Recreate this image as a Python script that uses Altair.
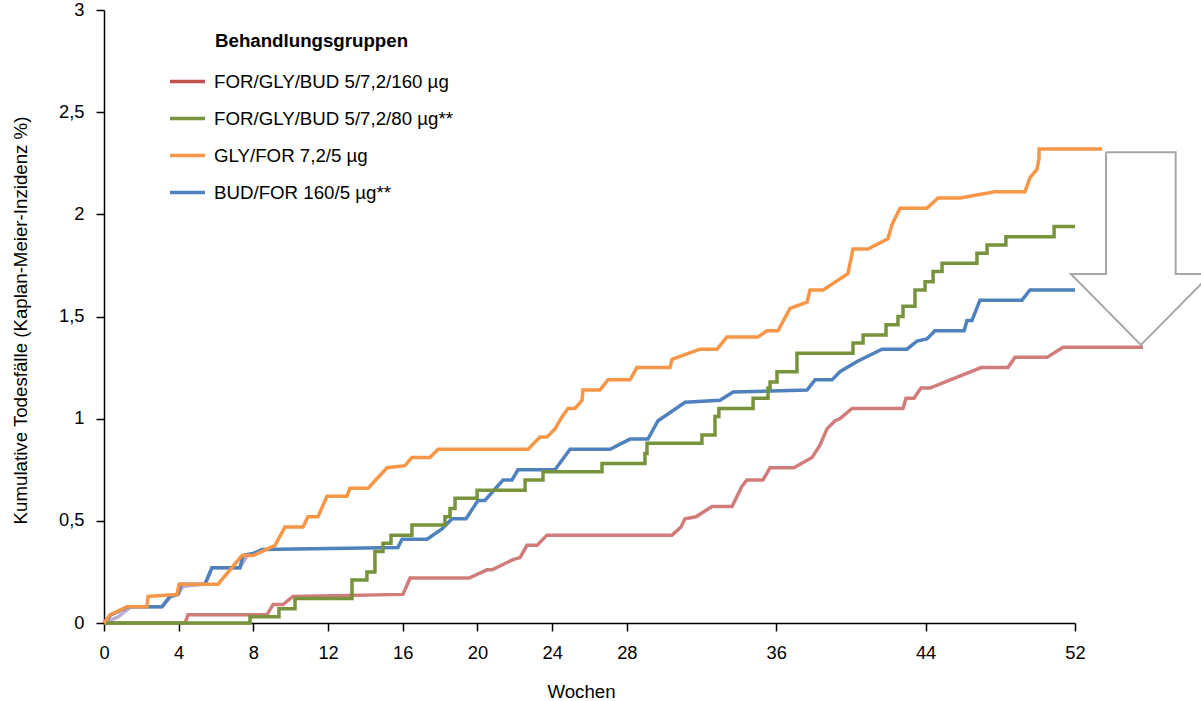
import altair as alt
import pandas as pd

FONT = "Liberation Sans"

GROUPS = ["FOR/GLY/BUD 5/7,2/160 µg", "FOR/GLY/BUD 5/7,2/80 µg**",
          "GLY/FOR 7,2/5 µg", "BUD/FOR 160/5 µg**"]
COLORS = ["#c0504d", "#77933c", "#f79646", "#4f81bd"]

X_TICKS = [0, 4, 8, 12, 16, 20, 24, 28, 36, 44, 52]
Y_TICKS = [0, 0.5, 1, 1.5, 2, 2.5, 3]

# FOR/GLY/BUD 5/7,2/160 µg
RED_W = [0, 4.34, 4.50, 8.73, 9.05, 9.59, 10.12, 16.01, 16.39, 19.55, 20.51, 20.78,
         21.90, 22.28, 22.65, 23.19, 23.72, 30.42, 30.90, 31.11, 31.70, 32.56, 33.63,
         34.17, 34.43, 35.29, 35.67, 36.95, 37.92, 38.34, 38.72, 39.15, 39.41, 40.06,
         42.79, 42.95, 43.38, 43.75, 44.23, 46.97, 48.41, 48.79, 50.50, 51.36, 55.64]
RED_V = [0, 0, 0.04, 0.04, 0.09, 0.09, 0.13, 0.14, 0.22, 0.22, 0.26, 0.26,
         0.31, 0.32, 0.38, 0.38, 0.43, 0.43, 0.47, 0.51, 0.52, 0.57, 0.57,
         0.67, 0.70, 0.70, 0.76, 0.76, 0.81, 0.87, 0.95, 0.99, 1.00, 1.05,
         1.05, 1.10, 1.10, 1.15, 1.15, 1.25, 1.25, 1.30, 1.30, 1.35, 1.35]

# FOR/GLY/BUD 5/7,2/80 µg** (step function: event week, value after event)
GREEN_W = [0, 7.82, 9.37, 10.23, 13.28, 14.08, 14.51, 14.94, 15.37, 16.49, 18.26, 18.53,
           18.80, 19.98, 22.55, 23.51, 26.67, 28.97, 29.08, 32.02, 32.72, 32.93, 34.76,
           35.56, 35.67, 36.04, 37.11, 40.11, 40.65, 41.88, 42.52, 42.79, 43.43, 43.97,
           44.40, 44.88, 46.75, 47.29, 48.30, 50.88, 52.00]
GREEN_V = [0, 0.03, 0.07, 0.12, 0.21, 0.25, 0.35, 0.39, 0.43, 0.48, 0.52, 0.56,
           0.61, 0.65, 0.70, 0.74, 0.78, 0.83, 0.88, 0.92, 1.01, 1.05, 1.10,
           1.15, 1.18, 1.23, 1.32, 1.37, 1.41, 1.46, 1.50, 1.55, 1.63, 1.67,
           1.72, 1.76, 1.81, 1.85, 1.89, 1.94, 1.94]

# GLY/FOR 7,2/5 µg
ORANGE_W = [0, 0.32, 1.23, 2.30, 2.36, 3.91, 4.02, 6.11, 7.39, 7.98, 9.16, 9.69, 10.66,
            10.92, 11.46, 11.94, 13.01, 13.17, 14.14, 15.16, 16.12, 16.49, 17.46, 17.89,
            22.71, 23.35, 23.72, 24.15, 24.53, 24.85, 25.22, 25.60, 25.65, 26.56, 26.99,
            28.17, 28.54, 30.31, 30.42, 31.92, 32.83, 33.36, 35.02, 35.51, 36.09, 36.74,
            37.65, 37.81, 38.51, 39.84, 40.11, 40.91, 41.98, 42.20, 42.63, 44.07, 44.66,
            45.84, 47.72, 49.32, 49.59, 49.96, 50.07, 50.08, 53.45]
ORANGE_V = [0, 0.04, 0.08, 0.08, 0.13, 0.14, 0.19, 0.19, 0.33, 0.33, 0.38, 0.47, 0.47,
            0.52, 0.52, 0.62, 0.62, 0.66, 0.66, 0.76, 0.77, 0.81, 0.81, 0.85,
            0.85, 0.91, 0.91, 0.95, 1.01, 1.05, 1.05, 1.09, 1.14, 1.14, 1.19,
            1.19, 1.25, 1.25, 1.29, 1.34, 1.34, 1.40, 1.40, 1.43, 1.43, 1.54,
            1.57, 1.63, 1.63, 1.71, 1.83, 1.83, 1.88, 1.95, 2.03, 2.03, 2.08,
            2.08, 2.11, 2.11, 2.18, 2.22, 2.27, 2.32, 2.32]

# BUD/FOR 160/5 µg**
BLUE_W = [0, 0.37, 1.29, 3.11, 3.53, 3.96, 4.12, 5.41, 5.78, 7.28, 7.44, 7.98, 8.46,
          15.74, 15.96, 17.30, 18.10, 18.64, 19.39, 20.03, 20.40, 21.37, 21.85, 22.17,
          24.15, 24.96, 27.10, 28.17, 29.13, 29.67, 31.12, 32.99, 33.69, 37.65, 38.08,
          38.99, 39.41, 40.33, 41.66, 43.00, 43.54, 44.07, 44.50, 46.06, 46.22, 46.48,
          46.91, 49.16, 49.59, 52.00]
BLUE_V = [0, 0.04, 0.08, 0.08, 0.13, 0.14, 0.19, 0.19, 0.27, 0.27, 0.33, 0.34, 0.36,
          0.37, 0.41, 0.41, 0.46, 0.51, 0.51, 0.60, 0.60, 0.70, 0.70, 0.75,
          0.75, 0.85, 0.85, 0.90, 0.90, 0.99, 1.08, 1.09, 1.13, 1.14, 1.19,
          1.19, 1.23, 1.28, 1.34, 1.34, 1.38, 1.39, 1.43, 1.43, 1.48, 1.48,
          1.58, 1.58, 1.63, 1.63]

# faint lavender trace visible under the early part of the curves
LAV_W = [0, 0.75, 1.18, 1.45, 3.11, 3.59, 3.96, 4.23, 5.41, 5.78, 7.28, 7.66, 8.46]
LAV_V = [0, 0.03, 0.06, 0.08, 0.08, 0.13, 0.14, 0.18, 0.19, 0.27, 0.27, 0.33, 0.35]

# block arrow annotation (weeks, incidence), outline path
ARROW_W = [53.66, 57.39, 57.39, 59.28, 55.53, 51.78, 53.66, 53.66]
ARROW_V = [2.304, 2.304, 1.708, 1.708, 1.361, 1.708, 1.708, 2.304]


def frame(ws, vs, group):
    return pd.DataFrame({"w": ws, "v": vs, "g": group, "i": list(range(len(ws)))})


red_df = frame(RED_W, RED_V, GROUPS[0])
green_df = frame(GREEN_W, GREEN_V, GROUPS[1])
orange_df = frame(ORANGE_W, ORANGE_V, GROUPS[2])
blue_df = frame(BLUE_W, BLUE_V, GROUPS[3])
lav_df = frame(LAV_W, LAV_V, "lav")
arrow_df = frame(ARROW_W, ARROW_V, "arrow")

x_enc = alt.X("w:Q", title="Wochen",
              scale=alt.Scale(domain=[0, 52], nice=False, zero=False),
              axis=alt.Axis(values=X_TICKS, grid=False, tickSize=8, labelPadding=13,
                            labelFlush=False, format="d",
                            titleX=477, titleY=68, titleAlign="center",
                            titleBaseline="middle", titleFontWeight="normal"))
y_enc = alt.Y("v:Q", title="Kumulative Todesfälle (Kaplan-Meier-Inzidenz %)",
              scale=alt.Scale(domain=[0, 3], nice=False),
              axis=alt.Axis(values=Y_TICKS, grid=False, tickSize=8, labelPadding=12,
                            labelExpr="replace(toString(datum.value), '.', ',')",
                            titleX=-84, titleY=310, titleAlign="center",
                            titleBaseline="middle", titleFontWeight="normal"))
color_enc = alt.Color("g:N", scale=alt.Scale(domain=GROUPS, range=COLORS),
                      legend=alt.Legend(orient="none", legendX=64, legendY=52, title=None,
                                        symbolType="stroke", symbolSize=1225,
                                        symbolStrokeWidth=3.5, symbolOpacity=1,
                                        labelFontSize=18.7, labelFont=FONT, labelColor="black",
                                        labelOffset=7, rowPadding=7, padding=0,
                                        labelLimit=500))

lav = alt.Chart(lav_df).mark_line(strokeWidth=3.5, color="#b9abd3").encode(
    x=x_enc, y=y_enc, order="i:Q")
red = alt.Chart(red_df).mark_line(strokeWidth=3.5, strokeOpacity=0.75).encode(
    x=x_enc, y=y_enc, color=color_enc, order="i:Q")
blue = alt.Chart(blue_df).mark_line(strokeWidth=3.5).encode(
    x=x_enc, y=y_enc, color=color_enc, order="i:Q")
green = alt.Chart(green_df).mark_line(strokeWidth=3.5, interpolate="step-after").encode(
    x=x_enc, y=y_enc, color=color_enc, order="i:Q")
orange = alt.Chart(orange_df).mark_line(strokeWidth=3.5).encode(
    x=x_enc, y=y_enc, color=color_enc, order="i:Q")
arrow = alt.Chart(arrow_df).mark_line(strokeWidth=2, color="#a6a6a6").encode(
    x=x_enc, y=y_enc, order="i:Q")
legend_title = alt.Chart(pd.DataFrame({"t": ["Behandlungsgruppen"]})).mark_text(
    font=FONT, fontSize=18.7, fontWeight="bold", align="left", baseline="middle",
    color="black").encode(text="t:N", x=alt.value(111), y=alt.value(31))

chart = alt.layer(lav, red, blue, green, orange, arrow, legend_title).properties(
    width=971, height=613,
    autosize=alt.AutoSizeParams(type="none"),
    padding={"left": 104, "top": 10, "right": 126, "bottom": 78},
).configure_view(stroke=None).configure_axis(
    domainColor="black", domainWidth=1.5, tickColor="black", tickWidth=1.5,
    labelFont=FONT, labelFontSize=18.3, labelColor="black",
    titleFont=FONT, titleFontSize=18.7, titleColor="black",
)

chart.save("out.html", embed_options={"renderer": "svg", "actions": False})
